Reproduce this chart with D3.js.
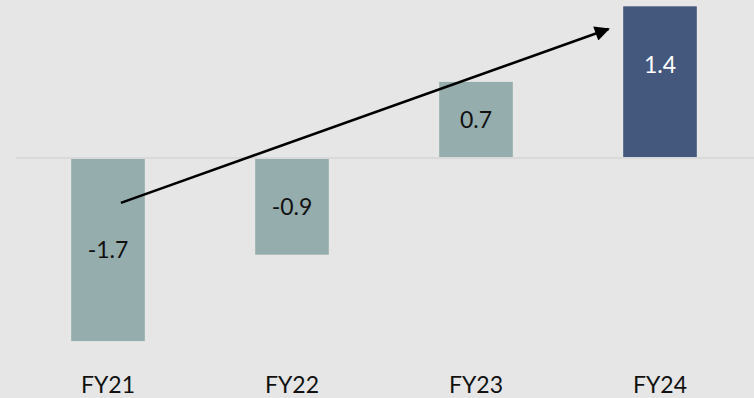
<!DOCTYPE html>
<html>
<head>
<meta charset="utf-8">
<script src="https://cdn.jsdelivr.net/npm/d3@7"></script>
<style>
  html, body { margin: 0; padding: 0; background: #e6e6e6; }
  #chart { width: 754px; height: 398px; }
</style>
</head>
<body>
<div id="chart"></div>
<script>
const categories = ["FY21", "FY22", "FY23", "FY24"];
const values = [-1.7, -0.9, 0.7, 1.4];
const valueLabels = ["-1.7", "-0.9", "0.7", "1.4"];
const labelAt = [-0.85, -0.45, 0.35, 0.86];
const highlight = [false, false, false, true];
// trend arrow, in category + value units
const arrowFrom = { cat: "FY21", shift: 0.07, value: -0.42 };
const arrowTo = { cat: "FY24", shift: -0.28, value: 1.19 };

function drawChart(divId) {
  const width = 754;
  const height = 398;
  const font = "Lato, 'Open Sans', sans-serif";
  const barColor = "#95adac";
  const hiColor = "#44587e";

  const svg = d3.select(`#${divId}`)
    .append("svg")
    .attr("width", width)
    .attr("height", height)
    .style("background", "#e6e6e6");

  const xScale = d3.scaleBand()
    .domain(categories)
    .range([16, 752])
    .paddingInner(0.6)
    .paddingOuter(0.3);

  const yScale = d3.scaleLinear()
    .domain([-2, 1.5])
    .range([373.5, -4.5]);

  const step = xScale.step();
  const cx = (c) => xScale(c) + xScale.bandwidth() / 2;

  svg.selectAll(".bar")
    .data(values)
    .enter()
    .append("rect")
    .attr("class", "bar")
    .attr("x", (d, i) => xScale(categories[i]))
    .attr("width", xScale.bandwidth())
    .attr("y", (d) => yScale(Math.max(0, d)))
    .attr("height", (d) => Math.abs(yScale(d) - yScale(0)))
    .attr("fill", (d, i) => (highlight[i] ? hiColor : barColor));

  // zero line
  svg.append("line")
    .attr("x1", 16)
    .attr("x2", width)
    .attr("y1", yScale(0) + 0.5)
    .attr("y2", yScale(0) + 0.5)
    .attr("stroke", "#d9d9d9")
    .attr("stroke-width", 2);

  // value labels
  svg.selectAll(".val")
    .data(values)
    .enter()
    .append("text")
    .attr("class", "val")
    .attr("x", (d, i) => cx(categories[i]))
    .attr("y", (d, i) => yScale(labelAt[i]) + 8.5)
    .attr("text-anchor", "middle")
    .style("font-family", font)
    .style("font-size", "23px")
    .attr("fill", (d, i) => (highlight[i] ? "#ffffff" : "#111111"))
    .text((d, i) => valueLabels[i]);

  // category labels
  svg.selectAll(".cat")
    .data(categories)
    .enter()
    .append("text")
    .attr("class", "cat")
    .attr("x", (d) => cx(d))
    .attr("y", 393)
    .attr("text-anchor", "middle")
    .style("font-family", font)
    .style("font-size", "23px")
    .attr("fill", "#111111")
    .text((d) => d);

  // arrow
  svg.append("defs")
    .append("marker")
    .attr("id", "head")
    .attr("viewBox", "0 0 10 10")
    .attr("refX", 9)
    .attr("refY", 5)
    .attr("markerUnits", "userSpaceOnUse")
    .attr("markerWidth", 20)
    .attr("markerHeight", 15)
    .attr("orient", "auto")
    .append("path")
    .attr("d", "M0,0 L10,5 L0,10 z")
    .attr("fill", "#000");

  svg.append("line")
    .attr("x1", cx(arrowFrom.cat) + arrowFrom.shift * step)
    .attr("y1", yScale(arrowFrom.value))
    .attr("x2", cx(arrowTo.cat) + arrowTo.shift * step)
    .attr("y2", yScale(arrowTo.value))
    .attr("stroke", "#000")
    .attr("stroke-width", 2.5)
    .attr("marker-end", "url(#head)");
}

drawChart("chart");
</script>
</body>
</html>
